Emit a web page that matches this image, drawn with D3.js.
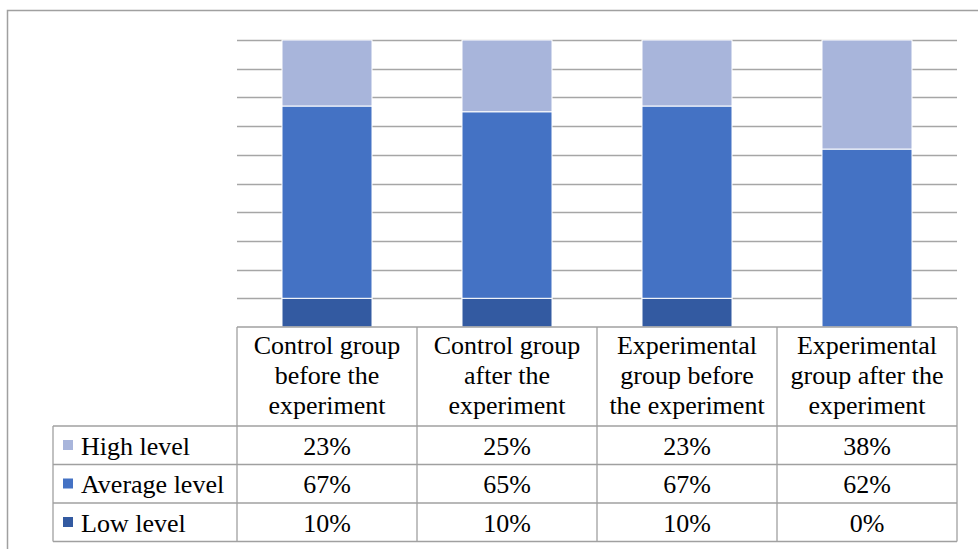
<!DOCTYPE html>
<html>
<head>
<meta charset="utf-8">
<script src="https://cdn.jsdelivr.net/npm/d3@7"></script>
<style>
@font-face { font-family: "ChartSerif"; src: local("Liberation Serif"), local("LiberationSerif"), local("Tinos"), local("Times New Roman"); }
</style>
</head>
<body style="margin:0">
<script>
const categories = [
  ["Control group", "before the", "experiment"],
  ["Control group", "after the", "experiment"],
  ["Experimental", "group before", "the experiment"],
  ["Experimental", "group after the", "experiment"]
];
const seriesNames = ["High level", "Average level", "Low level"];
const lowValues = [10, 10, 10, 0];
const averageValues = [67, 65, 67, 62];
const highValues = [23, 25, 23, 38];
const valueLabels = [
  ["23%", "25%", "23%", "38%"],
  ["67%", "65%", "67%", "62%"],
  ["10%", "10%", "10%", "0%"]
];
const colors = {"Low level": "#335AA1", "Average level": "#4472C4", "High level": "#A8B5DB"};

const W = 978, H = 549;
const svg = d3.select("body").append("svg").attr("width", W).attr("height", H)
  .style("display", "block")
  .style("font-family", "'Liberation Serif', Tinos, ChartSerif, monospace");

// outer frame
svg.append("rect").attr("x", 7.5).attr("y", 10.5).attr("width", 1000).attr("height", 600)
  .attr("fill", "none").attr("stroke", "#A0A0A0").attr("stroke-width", 1.5);

const plotLeft = 237, plotRight = 957, plotTop = 40, plotBottom = 327;
const x = d3.scaleBand().domain(d3.range(categories.length)).range([plotLeft, plotRight])
  .paddingInner(0.5).paddingOuter(0.25);
const y = d3.scaleLinear().domain([0, 100]).range([plotBottom, plotTop]);

// gridlines
const ticks = d3.range(10, 101, 10);
svg.append("g").selectAll("line").data(ticks).join("line")
  .attr("x1", plotLeft).attr("x2", plotRight)
  .attr("y1", d => Math.round(y(d)) + 0.5).attr("y2", d => Math.round(y(d)) + 0.5)
  .attr("stroke", "#A6A6A6").attr("stroke-width", 1.3);

// stacked bars
const rows = categories.map((c, i) => ({
  i, "Low level": lowValues[i], "Average level": averageValues[i], "High level": highValues[i]
}));
const stack = d3.stack().keys(["Low level", "Average level", "High level"]);
const stacked = stack(rows);
svg.append("g").selectAll("g").data(stacked).join("g")
  .attr("fill", d => colors[d.key])
  .selectAll("rect").data(d => d.filter(s => s[1] - s[0] > 0)).join("rect")
  .attr("x", d => x(d.data.i))
  .attr("width", x.bandwidth())
  .attr("y", d => y(d[1]))
  .attr("height", d => y(d[0]) - y(d[1]))
  .attr("stroke", "#fff").attr("stroke-width", 1);

// data table
const step = x.step();
const tableLeft = 53;
const headerTop = plotBottom;
const rowEdges = [426, 464.5, 503, 541.5];
const tg = svg.append("g");
const lineColor = "#A0A0A0";
function hline(x1, x2, yy) {
  tg.append("line").attr("x1", x1).attr("x2", x2).attr("y1", yy).attr("y2", yy)
    .attr("stroke", lineColor).attr("stroke-width", 1.3);
}
function vline(xx, y1, y2) {
  tg.append("line").attr("x1", xx).attr("x2", xx).attr("y1", y1).attr("y2", y2)
    .attr("stroke", lineColor).attr("stroke-width", 1.3);
}
hline(plotLeft, plotRight, headerTop);
rowEdges.forEach(e => hline(tableLeft, plotRight, e));
vline(tableLeft, rowEdges[0], rowEdges[3]);
for (let k = 0; k <= categories.length; k++) {
  vline(plotLeft + k * step, headerTop, rowEdges[3]);
}

function txt(sel) {
  return sel.attr("font-size", 26)
    .attr("font-family", "'Liberation Serif', Tinos, ChartSerif, monospace")
    .style("font-family", "'Liberation Serif', Tinos, ChartSerif, monospace");
}

// header text
categories.forEach((lines, i) => {
  const cx = plotLeft + (i + 0.5) * step;
  lines.forEach((ln, j) => {
    txt(tg.append("text").attr("text-anchor", "middle")
      .attr("x", cx).attr("y", 354 + j * 30)).text(ln);
  });
});

// rows
seriesNames.forEach((name, r) => {
  const baseline = rowEdges[r] + 28.5;
  tg.append("rect").attr("x", 63).attr("y", baseline - 14.5).attr("width", 10).attr("height", 10)
    .attr("fill", colors[name]);
  txt(tg.append("text").attr("x", 81).attr("y", baseline)).text(name);
  valueLabels[r].forEach((v, i) => {
    txt(tg.append("text").attr("x", plotLeft + (i + 0.5) * step).attr("y", baseline)
      .attr("text-anchor", "middle")).text(v);
  });
});
</script>
</body>
</html>
